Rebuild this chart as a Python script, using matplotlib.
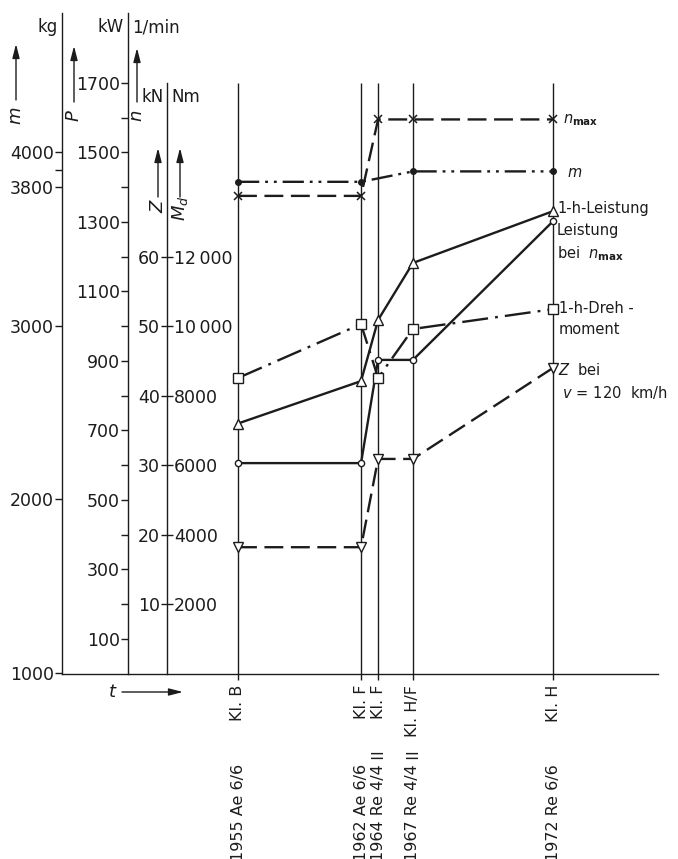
import matplotlib
matplotlib.use("Agg")
import matplotlib.pyplot as plt
from matplotlib.patches import FancyArrowPatch

# ---------------- data ----------------
class_labels = ["Kl. B", "Kl. F", "Kl. F", "Kl. H/F", "Kl. H"]
loco_labels = ["1955 Ae 6/6", "1962 Ae 6/6", "1964 Re 4/4 \u2161", "1967 Re 4/4 \u2161", "1972 Re 6/6"]
# time positions as drawn on the (compressed) time axis
t_pos = [1955.0, 1961.64, 1962.56, 1964.44, 1972.0]

n_max = [1375, 1375, 1595, 1595, 1595]            # 1/min
t_pos_m = [1955.0, 1961.64, 1964.44, 1972.0]
m_vals = [3830, 3830, 3890, 3890]                 # kg
P_1h = [720, 842, 1018, 1182, 1331]               # kW
P_nmax = [606, 606, 903, 903, 1302]               # kW
Md_1h = [8510, 10060, 8510, 9920, 10490]          # Nm
Z_120 = [18.2, 18.2, 30.9, 30.9, 44.0]            # kN

m_ticks = [1000, 2000, 3000, 3800, 4000]
m_minor = [3900]
Pn_ticks = [100, 300, 500, 700, 900, 1100, 1300, 1500, 1700]
Pn_minor = [200, 400, 600, 800, 1000, 1200, 1400, 1600]
Z_ticks = [10, 20, 30, 40, 50, 60]
Md_ticks = [2000, 4000, 6000, 8000, 10000, 12000]
Md_tick_labels = ["2000", "4000", "6000", "8000", "10\u2009000", "12\u2009000"]

# ---------------- layout ----------------
W, H = 678, 859
C = "#1c1c1c"
plt.rcParams['font.family'] = ['DejaVu Sans']
plt.rcParams['mathtext.fontset'] = 'dejavusans'

fig = plt.figure(figsize=(W / 100, H / 100), dpi=100)
L, R, B, T = 62, 658, 673.7, 13
ax = fig.add_axes([L / W, 1 - B / H, (R - L) / W, (B - T) / H])
k = 18.53  # px per year on drawn time axis
x_lo = 1955 - (238 - L) / k
x_hi = 1955 + (R - 238) / k
ax.set_xlim(x_lo, x_hi)
P_hi = (B - T) / 0.3475
ax.set_ylim(0, P_hi)
x_n_axis = 1955 - (238 - 128) / k
x_Z_axis = 1955 - (238 - 167) / k

lw_thin = 1.0
fs_tick = 12.5

# main P / n axis
for s in ["top", "right"]:
    ax.spines[s].set_visible(False)
ax.spines["left"].set_position(("data", x_n_axis))
ax.spines["left"].set_color(C)
ax.spines["left"].set_linewidth(lw_thin)
ax.spines["bottom"].set_color(C)
ax.spines["bottom"].set_linewidth(lw_thin)
ax.set_xticks([])
ax.set_yticks(Pn_ticks)
ax.set_yticks(Pn_minor, minor=True)
ax.tick_params(axis="y", which="both", direction="out", length=5, width=lw_thin,
               color=C, labelcolor=C, labelsize=fs_tick, pad=1)

# mass axis
ax_m = ax.twinx()
ax_m.set_ylim(1000 + 2 * ax.get_ylim()[0] - 4, 1000 + 2 * P_hi)
for s in ["top", "right", "bottom"]:
    ax_m.spines[s].set_visible(False)
ax_m.spines["left"].set_visible(True)
ax_m.spines["left"].set_color(C)
ax_m.spines["left"].set_linewidth(lw_thin)
ax_m.yaxis.set_ticks_position("left")
ax_m.set_yticks(m_ticks)
ax_m.set_yticks(m_minor, minor=True)
ax_m.tick_params(axis="y", which="both", direction="out", length=5, width=lw_thin,
                 color=C, labelcolor=C, labelsize=fs_tick, pad=1)

# Z axis
ax_Z = ax.twinx()
ax_Z.set_ylim(0, P_hi / 20)
for s in ["top", "right", "bottom"]:
    ax_Z.spines[s].set_visible(False)
ax_Z.spines["left"].set_visible(True)
ax_Z.spines["left"].set_position(("data", x_Z_axis))
ax_Z.spines["left"].set_bounds(0, 1700 / 20)
ax_Z.spines["left"].set_color(C)
ax_Z.spines["left"].set_linewidth(lw_thin)
ax_Z.yaxis.set_ticks_position("left")
ax_Z.set_yticks(Z_ticks)
ax_Z.tick_params(axis="y", direction="out", length=4, width=lw_thin,
                 color=C, labelcolor=C, labelsize=fs_tick, pad=1)

# Md axis
ax_Md = ax.twinx()
ax_Md.set_ylim(0, P_hi * 10)
for s in ["top", "left", "bottom"]:
    ax_Md.spines[s].set_visible(False)
ax_Md.spines["right"].set_position(("data", x_Z_axis))
ax_Md.spines["right"].set_bounds(0, 17000)
ax_Md.spines["right"].set_visible(False)
ax_Md.yaxis.set_ticks_position("right")
ax_Md.set_yticks(Md_ticks, Md_tick_labels)
ax_Md.tick_params(axis="y", direction="out", length=4, width=lw_thin,
                  color=C, labelcolor=C, labelsize=fs_tick, pad=1)

# station lines
ax.vlines(t_pos, -18, 1700, colors=C, linewidth=lw_thin, clip_on=False, zorder=1)

# ---------------- series ----------------
lw = 1.7
ls_dash = (0, (8, 3.2))
ls_dd = (0, (9, 2.5, 1.2, 2.5, 1.2, 2.5))
ls_d = (0, (11, 3, 1.2, 3))
ax.plot(t_pos, n_max, color=C, lw=lw, ls=ls_dash, marker="x", ms=6, mew=1.1, zorder=5)
ax_m.plot(t_pos_m, m_vals, color=C, lw=lw, ls=ls_dd, marker="o", ms=4, mfc=C, mec=C, zorder=5)
ax.plot(t_pos, P_1h, color=C, lw=lw, ls="-", marker="^", ms=6.5, mfc="white", mec=C, mew=1.0, zorder=5)
ax.plot(t_pos, P_nmax, color=C, lw=lw, ls="-", marker="o", ms=4.5, mfc="white", mec=C, mew=1.0, zorder=5)
ax_Md.plot(t_pos, Md_1h, color=C, lw=lw, ls=ls_d, marker="s", ms=7, mfc="white", mec=C, mew=1.0, zorder=5)
ax_Z.plot(t_pos, Z_120, color=C, lw=lw, ls=ls_dash, marker="v", ms=6.5, mfc="white", mec=C, mew=1.0, zorder=5)

# series labels
fs_lab = 10.5
def lab(a, x, y, s, dx, dy, va="center", **kw):
    a.annotate(s, xy=(x, y), xytext=(dx, dy), textcoords="offset pixels",
               ha="left", va=va, fontsize=fs_lab, color=C, linespacing=1.45, **kw)

lab(ax, t_pos[-1], n_max[-1], r"$n_{\mathbf{max}}$", 10, -1)
lab(ax_m, t_pos_m[-1], m_vals[-1], r"$m$", 14, -1)
lab(ax, t_pos[-1], P_1h[-1], "1-h-Leistung", 4, 3)
lab(ax, t_pos[-1], P_nmax[-1], "Leistung\nbei  " + r"$n_{\mathbf{max}}$", 4, -2, va="top")
lab(ax_Md, t_pos[-1], Md_1h[-1], "1-h-Dreh -\nmoment", 6, 8, va="top")
lab(ax_Z, t_pos[-1], Z_120[-1], r"$Z$" + "  bei\n " + r"$v$" + " = 120  km/h", 5, 6, va="top")

# station labels
fs_st = 11.5
renderer = fig.canvas.get_renderer()
for x, cl, lo in zip(t_pos, class_labels, loco_labels):
    ax.annotate(cl, xy=(x, 0), xytext=(0, -11), textcoords="offset pixels",
                rotation=90, ha="center", va="top", fontsize=fs_st, color=C)
    main, roman = lo, ""
    if "\u2161" in lo:
        main, roman = lo.split("\u2161")[0].rstrip(), "\u2161"
    t = ax.annotate(main, xy=(x, 0), xytext=(0, -187), textcoords="offset pixels",
                    rotation=90, ha="center", va="bottom", fontsize=fs_st, color=C)
    if roman:
        bb = t.get_window_extent(renderer)
        fig.text(((bb.x0 + bb.x1) / 2 - 3.5) / W, (bb.y1 + 5) / H, roman, rotation=90,
                 ha="center", va="bottom", fontsize=fs_st, color=C,
                 family=["Noto Sans CJK SC", "DejaVu Sans"])

# ---------------- header texts & arrows ----------------
def ftext(x, y, s, **kw):
    kw.setdefault("fontsize", 12)
    kw.setdefault("color", C)
    fig.text(x / W, 1 - y / H, s, **kw)

def farrow(x0, y0, x1, y1):
    fig.add_artist(FancyArrowPatch(
        (x0 / W, 1 - y0 / H), (x1 / W, 1 - y1 / H), transform=fig.transFigure,
        arrowstyle="-|>,head_length=0.7,head_width=0.18", mutation_scale=12,
        color=C, lw=1.0, shrinkA=0, shrinkB=0))

ftext(58, 27, "kg", ha="right", va="center")
ftext(124, 27, "kW", ha="right", va="center")
ftext(132, 27, "1/min", ha="left", va="center")
ftext(164, 97, "kN", ha="right", va="center")
ftext(171, 97, "Nm", ha="left", va="center")

farrow(16, 100, 16, 44)
farrow(74, 102, 74, 46)
farrow(137, 102, 137, 48)
farrow(158, 197, 158, 148)
farrow(180, 197, 180, 148)
ftext(16, 116, r"$m$", rotation=90, ha="center", va="center", fontsize=13)
ftext(74, 116, r"$P$", rotation=90, ha="center", va="center", fontsize=13)
ftext(137, 116, r"$n$", rotation=90, ha="center", va="center", fontsize=13)
ftext(158, 205, r"$Z$", rotation=90, ha="center", va="center", fontsize=13)
ftext(180, 208, r"$M_d$", rotation=90, ha="center", va="center", fontsize=13)

ftext(113, 692, r"$t$", ha="center", va="center", fontsize=13)
farrow(122, 692, 183, 692)

fig.savefig("out.png", dpi=100)
